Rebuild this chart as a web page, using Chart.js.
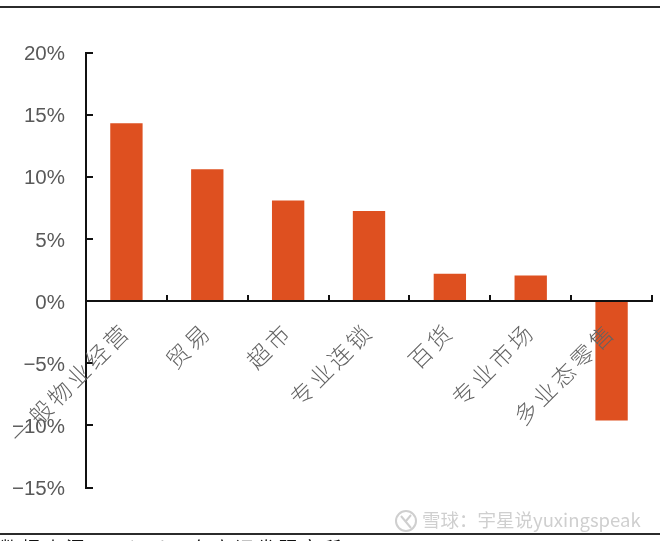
<!DOCTYPE html>
<html>
<head>
<meta charset="utf-8">
<script src="https://cdn.jsdelivr.net/npm/chart.js@4"></script>
<style>
  html, body { margin: 0; padding: 0; background: #fff; }
  #wrap { position: relative; width: 660px; height: 541px; overflow: hidden; }
  #chart { position: absolute; left: 0; top: 0; }
  .rule { position: absolute; left: 0; width: 660px; background: #2b2b2b; }
  .logo { position: absolute; left: 394px; top: 509px; }
  .watermark { position: absolute; left: 422px; top: 506px; font: 18.5px "Noto Sans CJK SC", sans-serif; color: #cfcfcf; line-height: 26px; white-space: nowrap; }
  .source { position: absolute; left: 0; top: 534px; font: 18px "Noto Sans CJK SC", serif; letter-spacing: 4px; color: #111; white-space: nowrap; }
</style>
</head>
<body>
<div id="wrap">
  <canvas id="chart" width="660" height="541"></canvas>
  <div class="rule" style="top:6px;height:2px"></div>
  <div class="rule" style="top:533px;height:2px"></div>
  <svg class="logo" width="24" height="24" viewBox="0 0 24 24" fill="none" stroke="#cfcfcf" stroke-width="2">
    <circle cx="12" cy="12" r="10"></circle>
    <path d="M7 7l5 6 5 6M17 6l-5 6"></path>
  </svg>
  <div class="watermark">雪球：宇星说yuxingspeak</div>
  <div class="source">数据来源：Wind，东方证券研究所</div>
</div>
<script>
const categories = ['一般物业经营', '贸易', '超市', '专业连锁', '百货', '专业市场', '多业态零售'];
const growth = [14.3, 10.6, 8.1, 7.25, 2.2, 2.05, -9.6];
const yTicks = [20, 15, 10, 5, 0, -5, -10, -15];

const barColor = '#DE5020';
const axisColor = '#111111';
const labelColor = '#636363';

new Chart(document.getElementById('chart'), {
  type: 'bar',
  data: {
    labels: categories,
    datasets: [{
      data: growth,
      backgroundColor: barColor,
      barPercentage: 0.4,
      categoryPercentage: 1,
    }],
  },
  options: {
    responsive: false,
    animation: false,
    layout: { padding: 0 },
    plugins: { legend: { display: false }, tooltip: { enabled: false } },
    scales: {
      x: {
        position: { y: 0 },
        border: { color: axisColor, width: 2 },
        grid: { drawOnChartArea: false, color: axisColor, lineWidth: 2, tickLength: -7 },
        ticks: {
          z: 1,
          color: labelColor,
          font: { family: '"Noto Sans CJK SC"', size: 23, weight: 300 },
          minRotation: 45,
          maxRotation: 45,
          autoSkip: false,
          padding: 23,
        },
      },
      y: {
        min: -15,
        max: 20,
        afterBuildTicks: (scale) => { scale.ticks = yTicks.map((value) => ({ value })); },
        afterFit: (scale) => { scale.width = 86; },
        border: { color: axisColor, width: 2 },
        grid: { drawOnChartArea: false, color: axisColor, lineWidth: 2, tickLength: -7 },
        ticks: {
          color: '#595959',
          font: { family: '"Liberation Sans"', size: 20.5 },
          padding: 28,
          labelOffset: 2,
          callback: (v) => (v < 0 ? '\u2212' + Math.abs(v) : v) + '%',
        },
      },
    },
  },
  plugins: [{
    // fixes the plot box to the reference frame
    id: 'plotBox',
    afterLayout(chart) {
      const { x, y } = chart.scales;
      const area = chart.chartArea;
      area.left = x.left = 86; area.right = x.right = 652;
      area.top = y.top = 52.5; area.bottom = y.bottom = 487.5;
      area.width = x.width = 566; area.height = y.height = 435;
      y.right = 86; y.left = 0; y.width = 86;
      x.configure(); y.configure();
      x.width = 566; y.height = 435;
    },
    // the x labels are the only layer drawn after the bars; the reference spaces them out
    afterDatasetsDraw(chart) { chart.ctx.letterSpacing = '3.5px'; },
    afterDraw(chart) { chart.ctx.letterSpacing = '0px'; },
  }],
});
</script>
</body>
</html>
